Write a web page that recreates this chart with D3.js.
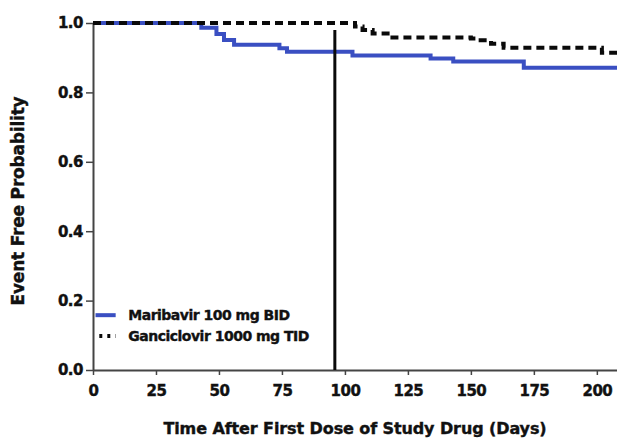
<!DOCTYPE html>
<html>
<head>
<meta charset="utf-8">
<script src="https://cdn.jsdelivr.net/npm/d3@7"></script>
<style>
  body { margin: 0; background: #fff; }
  svg text { font-family: "DejaVu Sans", sans-serif; font-weight: bold; fill: #111; stroke: #111; stroke-width: 0.4px; }
</style>
</head>
<body>
<div class="chart"></div>
<script>
"use strict";

// Kaplan-Meier step data
var maribavirDays = [0, 43, 49, 52, 56, 74, 77, 103, 134, 143, 171, 208];
var maribavirSurv = [1.0, 0.986, 0.968, 0.951, 0.937, 0.927, 0.917, 0.906, 0.898, 0.889, 0.871, 0.871];

var ganciclovirDays = [0, 104, 107, 111, 118, 150, 153, 158, 163, 202, 208];
var ganciclovirSurv = [1.0, 0.99, 0.98, 0.97, 0.958, 0.955, 0.95, 0.94, 0.929, 0.914, 0.914];

var xTicks = [0, 25, 50, 75, 100, 125, 150, 175, 200];
var yTicks = [0.0, 0.2, 0.4, 0.6, 0.8, 1.0];
var cutoffDay = 96;

var seriesNames = ["Maribavir 100 mg BID", "Ganciclovir 1000 mg TID"];

function renderChart() {
    var width = 617;
    var height = 439;
    var margin = { top: 23, right: 0, bottom: 69, left: 93 };
    var innerW = width - margin.left - margin.right;
    var innerH = height - margin.top - margin.bottom;

    var blueColor = "#3a4fc2";
    var blackColor = "#0a0a0a";

    var svg = d3.select(".chart").append("svg")
        .attr("width", width)
        .attr("height", height);

    var g = svg.append("g")
        .attr("transform", "translate(" + margin.left + "," + margin.top + ")");

    var x = d3.scaleLinear().domain([0, 208]).range([0, innerW]);
    var y = d3.scaleLinear().domain([0, 1]).range([innerH, 0]);

    // Axes
    var xAxis = g.append("g")
        .attr("transform", "translate(0," + innerH + ")")
        .call(d3.axisBottom(x).tickValues(xTicks).tickSize(5).tickPadding(10).tickSizeOuter(0));
    xAxis.selectAll("text")
        .style("font-size", "15px")
        .style("letter-spacing", "-0.5px");

    var yAxis = g.append("g")
        .call(d3.axisLeft(y).tickValues(yTicks).tickFormat(d3.format(".1f")).tickSize(7).tickPadding(3).tickSizeOuter(0));
    yAxis.selectAll("text")
        .style("font-size", "15px")
        .style("letter-spacing", "-0.5px");

    svg.selectAll(".domain").style("stroke", "#444").style("stroke-width", 2);
    svg.selectAll(".tick line").style("stroke", "#444").style("stroke-width", 1.5);

    // Curves
    var line = d3.line()
        .x(function (d) { return x(d[0]); })
        .y(function (d) { return y(d[1]); })
        .curve(d3.curveStepAfter);

    g.append("path")
        .datum(d3.zip(maribavirDays, maribavirSurv))
        .attr("d", line)
        .style("fill", "none")
        .style("stroke", blueColor)
        .style("stroke-width", 4);

    g.append("path")
        .datum(d3.zip(ganciclovirDays, ganciclovirSurv))
        .attr("d", line)
        .style("fill", "none")
        .style("stroke", blackColor)
        .style("stroke-width", 4)
        .style("stroke-dasharray", "8,5");

    // Vertical cutoff line
    g.append("line")
        .attr("x1", x(cutoffDay)).attr("x2", x(cutoffDay))
        .attr("y1", y(0.98)).attr("y2", y(0))
        .style("stroke", blackColor)
        .style("stroke-width", 3);

    // Legend
    var legend = g.append("g");
    legend.append("line")
        .attr("x1", x(1)).attr("x2", x(9))
        .attr("y1", y(0.158)).attr("y2", y(0.158))
        .style("stroke", blueColor)
        .style("stroke-width", 4);
    legend.append("line")
        .attr("x1", x(2.5)).attr("x2", x(9))
        .attr("y1", y(0.098)).attr("y2", y(0.098))
        .style("stroke", blackColor)
        .style("stroke-width", 4)
        .style("stroke-dasharray", "3,5");

    legend.selectAll("text.leg")
        .data(seriesNames)
        .enter().append("text")
        .attr("class", "leg")
        .attr("x", x(14))
        .attr("y", function (d, i) { return y(i === 0 ? 0.158 : 0.098); })
        .attr("dy", "0.35em")
        .style("font-size", "14px")
        .style("letter-spacing", "-0.5px")
        .text(function (d) { return d; });

    // Axis titles
    svg.append("text")
        .attr("x", 355)
        .attr("y", 434)
        .attr("text-anchor", "middle")
        .style("font-size", "16px")
        .style("letter-spacing", "-0.1px")
        .text("Time After First Dose of Study Drug (Days)");

    svg.append("text")
        .attr("transform", "translate(24," + 201 + ") rotate(-90)")
        .attr("text-anchor", "middle")
        .style("font-size", "17px")
        .style("letter-spacing", "-0.2px")
        .text("Event Free Probability");
}

renderChart();
</script>
</body>
</html>
